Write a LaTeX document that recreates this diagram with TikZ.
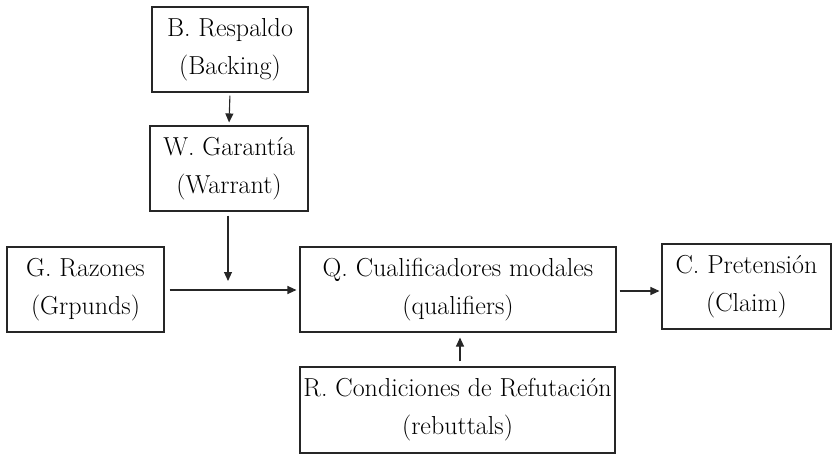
\documentclass[tikz,border=0pt]{standalone}
\usetikzlibrary{arrows.meta}
\definecolor{ink}{HTML}{262626}
\begin{document}
\begin{tikzpicture}[x=1pt,y=-1pt,
  box/.style={draw=ink, text=black, line width=1.1pt, align=center, inner sep=0pt,
    font=\fontsize{26}{38}\selectfont},
  arr/.style={draw=ink, line width=1.1pt, -{Triangle[length=9pt,width=8pt]}}]
\useasboundingbox (0,0) rectangle (834,454);
\node[box, minimum width=156pt, minimum height=85pt] (B) at (230,49.5) {B. Respaldo\\(Backing)};
\node[box, minimum width=158pt, minimum height=85pt] (W) at (229,168.5) {W. Garantía\\(Warrant)};
\node[box, minimum width=157pt, minimum height=85pt] (G) at (85.5,289.5) {G. Razones\\(Grpunds)};
\node[box, minimum width=316pt, minimum height=85pt] (Q) at (458,289.5) {Q. Cualificadores modales\\(qualifiers)};
\node[box, minimum width=169pt, minimum height=85pt] (C) at (746.5,286.5) {C. Pretensión\\(Claim)};
\node[box, minimum width=315pt, minimum height=86pt] (R) at (457.5,410) {R. Condiciones de Refutación\\(rebuttals)};
\coordinate (j) at (228,281);
\draw[arr, shorten <=3pt, shorten >=3pt] (B.south) -- (W.north);
\draw[arr, shorten <=4pt] (W.south -| j) -- (j);
\draw[arr, shorten <=5pt, shorten >=3pt] (G.east |- 0,290) -- (Q.west |- 0,290);
\draw[arr, shorten <=3pt, shorten >=2pt] (Q.east |- 0,291) -- (C.west |- 0,291);
\draw[arr, shorten <=5pt, shorten >=5pt] (R.north -| 460,0) -- (Q.south -| 460,0);
\end{tikzpicture}
\end{document}
